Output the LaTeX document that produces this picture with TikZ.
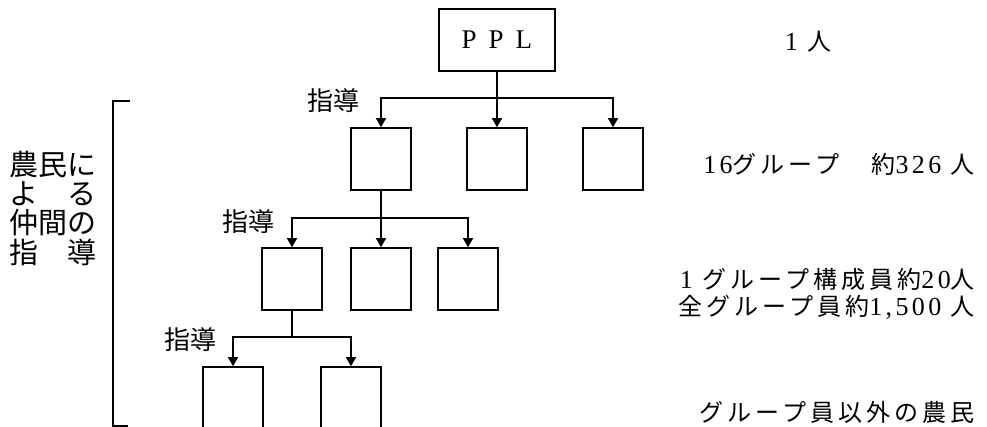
\documentclass[tikz,border=0pt]{standalone}
\usepackage{fontspec}
\setmainfont{Liberation Serif}
\newfontfamily\lat{Liberation Serif}
\newfontfamily\latw{Liberation Serif}[LetterSpace=13]
\newfontfamily\jp{Noto Sans CJK JP}
\newfontfamily\jpls{Noto Sans CJK JP}[LetterSpace=17]
\newcommand\numtxt[1]{{\fontsize{26}{25}\latw #1}}
\usetikzlibrary{arrows.meta}
\begin{document}
\begin{tikzpicture}[x=1pt,y=-1pt,
  box/.style={draw,line width=1.6pt,minimum width=60pt,minimum height=62pt,inner sep=0pt},
  conn/.style={line width=1.6pt},
  arr/.style={conn,-{Triangle[width=10pt,length=9pt]}},
  lab/.style={font=\fontsize{26}{26}\jp,inner sep=0pt},
  notebase/.style={font=\fontsize{24}{25}\jpls,inner sep=0pt,anchor=east},
  note/.style={notebase,text height=18pt,text depth=3pt},
  side/.style={font=\fontsize{29}{29}\jp,inner sep=0pt}]
\useasboundingbox (0,0) rectangle (987,427);
\clip (0,0) rectangle (987,427);
% boxes
\node[box,minimum width=116pt] (ppl) at (497,40) {\fontsize{27}{27}\lat P\hspace{12pt}P\hspace{12pt}L};
\node[box] (a1) at (381,159) {};
\node[box] (a2) at (497,159) {};
\node[box] (a3) at (613,159) {};
\node[box] (b1) at (292,279) {};
\node[box] (b2) at (381,279) {};
\node[box] (b3) at (468,279) {};
\node[box] (c1) at (233,398) {};
\node[box] (c2) at (351,398) {};
% connectors
\coordinate (j1) at (497,98);
\draw[conn] (ppl.south) -- (j1);
\draw[arr] (j1) -| (a1.north);
\draw[arr] (j1) -- (a2.north);
\draw[arr] (j1) -| (a3.north);
\coordinate (j2) at (381,218);
\draw[conn] (a1.south) -- (j2);
\draw[arr] (j2) -| (b1.north);
\draw[arr] (j2) -- (b2.north);
\draw[arr] (j2) -| (b3.north);
\coordinate (j3) at (292,337);
\draw[conn] (b1.south) -- (j3);
\draw[arr] (j3) -| (c1.north);
\draw[arr] (j3) -| (c2.north);
% labels
\node[lab] (g1) at (333,101) {指導};
\node[lab] (g2) at (248,222) {指導};
\node[lab] (g3) at (190,340) {指導};
% side text and bracket
\node[side] (s1) at (53,165) {農民に};
\node[side] (s2) at (53,194) {よ　る};
\node[side] (s3) at (53,223) {仲間の};
\node[side] (s4) at (53,252) {指　導};
\coordinate (bt) at (130,101);
\coordinate (bb) at (128,426);
\draw[conn] (bt) -- (113,101) -- (113,426) -- (bb);
% notes
\node[note,anchor=center] (n0) at (808,43) {\numtxt{1}\ 人};
\node[note] (n1) at (975,166) {\numtxt{16}グループ　約\numtxt{326} 人};
\node[notebase,align=right] (n2) at (975,294) {\numtxt{1}\ グループ構成員約\numtxt{20}人\\[1.5pt]全グループ員約\numtxt{1,500} 人};
\node[note] (n4) at (975,414) {グループ員以外の農民};
\end{tikzpicture}
\end{document}
